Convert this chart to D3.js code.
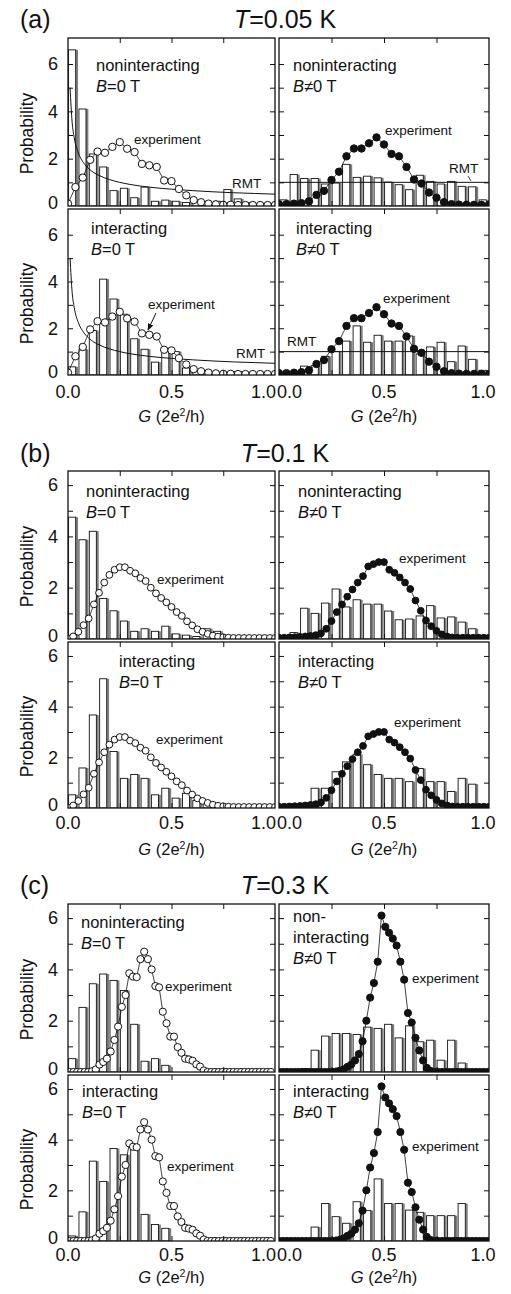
<!DOCTYPE html>
<html>
<head>
<meta charset="utf-8">
<script src="https://cdn.jsdelivr.net/npm/d3@7"></script>
<style>
  body { margin: 0; background: #fff; }
  svg text { font-family: "Liberation Sans", Arial, Helvetica, sans-serif; fill: #111; }
</style>
</head>
<body>
<svg id="chart" width="511" height="1294"></svg>
<script>
// ---- data -------------------------------------------------------------
// histogram bins, width 0.05 in G (2e^2/h)
var binStarts = [0, 0.05, 0.1, 0.15, 0.2, 0.25, 0.3, 0.35, 0.4, 0.45,
                 0.5, 0.55, 0.6, 0.65, 0.7, 0.75, 0.8, 0.85, 0.9, 0.95];
var binWidth = 0.05;

// (a) T = 0.05 K
var histA_nonB0 = [6.6, 4.1, 2.2, 1.65, 0.65, 0.75, 0.35, 0.8, 0.2, 0.25, 0.2, 0.15, 0.2, 0.1, 0.2, 0.7, 0.3, 0.15, 0.1, 0.1];
var histA_nonB1 = [0.26, 1.33, 1.16, 1.16, 0.93, 0.97, 1.76, 1.21, 1.26, 1.19, 1.01, 0.9, 0.69, 1.3, 1.04, 0.93, 1.04, 0.83, 0.81, 0.26];
var histA_intB0 = [0.35, 1.1, 1.9, 4.1, 3.25, 2.6, 1.55, 1.1, 0.55, 1.0, 1.0, 0.3, 0.2, 0.1, 0.1, 0.1, 0.15, 0.1, 0.05, 0.05];
var histA_intB1 = [0, 0.05, 0.38, 0.4, 0.8, 1.0, 1.45, 2.1, 1.4, 1.7, 1.45, 1.45, 1.67, 0.9, 1.2, 1.4, 0.57, 1.24, 0.67, 0.2];
// (b) T = 0.1 K
var histB_nonB0 = [4.75, 3.87, 4.2, 1.58, 1.1, 0.7, 0.3, 0.4, 0.3, 0.5, 0.2, 0.15, 0.1, 0.4, 0.3, 0.05, 0.05, 0.05, 0.05, 0.05];
var histB_nonB1 = [0.05, 0.25, 1.2, 1.0, 1.4, 1.95, 1.25, 1.53, 1.36, 1.36, 1.09, 0.75, 0.78, 0.9, 1.3, 0.82, 0.86, 0.66, 0.4, 0.05];
var histB_intB0 = [0.52, 1.58, 3.67, 5.1, 2.23, 1.17, 1.32, 1.17, 0.52, 0.78, 0.39, 0.58, 0.3, 0.25, 0.1, 0.05, 0.05, 0.05, 0.05, 0.05];
var histB_intB1 = [0, 0, 0.05, 0.78, 0.78, 1.43, 1.82, 2.12, 1.71, 1.32, 1.17, 1.17, 1.04, 1.56, 1.04, 1.04, 0.65, 1.17, 0.94, 0.05];
// (c) T = 0.3 K
var histC_nonB0 = [0.52, 2.52, 3.44, 3.82, 3.57, 3.18, 1.86, 0.42, 0.52, 0.26, 0, 0, 0, 0, 0, 0, 0, 0, 0, 0];
var histC_nonB1 = [0, 0, 0.13, 0.85, 1.4, 1.5, 1.5, 1.46, 1.75, 1.7, 1.86, 1.33, 1.8, 1.18, 1.24, 0.46, 1.24, 0.35, 0, 0];
var histC_intB0 = [0.2, 1.15, 3.15, 2.35, 3.65, 3.4, 3.6, 1.05, 0.65, 0.5, 0, 0, 0, 0, 0, 0, 0, 0, 0, 0];
var histC_intB1 = [0, 0, 0, 0.55, 1.48, 0.96, 0.7, 1.55, 1.2, 2.45, 1.48, 1.48, 1.22, 1.13, 1.0, 1.0, 1.0, 1.48, 0, 0];

// measured distributions, sampled on an even G grid (start, step)
var expA_B0 = [0.1, 0.8, 1.2, 1.95, 2.3, 2.25, 2.5, 2.7, 2.42, 2.28, 1.78, 1.72, 1.65, 1.08, 1.05,
               0.72, 0.45, 0.25, 0.16, 0.1, 0.07, 0.05, 0.05, 0.04, 0.04, 0.04, 0.04, 0.04, 0.04];
var expA_B1 = [0.08, 0.08, 0.1, 0.12, 0.2, 0.47, 0.64, 1.1, 1.45, 2.1, 2.43, 2.43, 2.65, 2.9, 2.6,
               2.2, 2.1, 1.65, 1.12, 0.95, 0.57, 0.35, 0.16, 0.08, 0.06, 0.05, 0.05, 0.05, 0.05];
var expB_B0 = [0.02, 0.1, 0.28, 0.54, 0.8, 1.35, 1.8, 2.2, 2.5, 2.7, 2.8, 2.8, 2.66, 2.56, 2.38,
               2.26, 2.0, 1.78, 1.6, 1.43, 1.25, 1.05, 0.9, 0.69, 0.53, 0.38, 0.28, 0.2, 0.13, 0.09,
               0.07, 0.05, 0.04, 0.04, 0.04, 0.04, 0.04, 0.04, 0.04, 0.04, 0.04];
var expB_B1 = [0.05, 0.05, 0.06, 0.07, 0.08, 0.1, 0.12, 0.15, 0.22, 0.4, 0.7, 1.05, 1.35, 1.65, 1.93,
               2.2, 2.45, 2.83, 2.92, 3.0, 3.0, 2.7, 2.58, 2.4, 2.2, 1.95, 1.5, 1.1, 0.72, 0.5,
               0.32, 0.18, 0.1, 0.06, 0.05, 0.05, 0.05, 0.05, 0.05, 0.05, 0.05];
var expC_B0 = [0, 0, 0, 0, 0, 0, 0.03, 0.1, 0.29, 0.39, 0.52, 0.8, 1.25, 1.77, 2.54, 3.0, 3.85, 3.72,
               3.7, 4.4, 4.69, 4.4, 4.0, 3.35, 3.3, 2.35, 1.9, 1.38, 1.38, 0.97, 0.75, 0.52, 0.49,
               0.44, 0.3, 0.21, 0.06, 0, 0, 0, 0, 0, 0, 0, 0, 0, 0, 0, 0, 0, 0, 0, 0, 0, 0];
var expC_B1 = [0, 0, 0, 0, 0, 0, 0, 0, 0, 0, 0, 0, 0, 0, 0, 0.02, 0.05, 0.1, 0.2, 0.29, 0.45, 0.7,
               1.2, 2.0, 2.9, 3.47, 4.3, 6.1, 5.66, 5.43, 5.2, 4.93, 4.3, 3.6, 2.3, 1.93, 1.33, 0.84,
               0.45, 0.16, 0.04, 0, 0, 0, 0, 0, 0, 0, 0, 0, 0, 0, 0, 0, 0, 0];

// random-matrix-theory curves
var rmtG_B0 = [0.01, 0.02, 0.03, 0.05, 0.075, 0.1, 0.15, 0.2, 0.3, 0.4, 0.5, 0.6, 0.7, 0.8, 0.9, 1.0];
var rmtP_B0 = [5.0, 3.54, 2.89, 2.24, 1.83, 1.58, 1.29, 1.12, 0.91, 0.79, 0.71, 0.65, 0.6, 0.56, 0.53, 0.5];
var rmtG_B1 = [0, 1];
var rmtP_B1 = [1, 1];

var xTickVals = [0.25, 0.5, 0.75];
var xLabelVals = [0, 0.5, 1];
var yTickVals = [1, 2, 3, 4, 5, 6];
var yLabelVals = [0, 2, 4, 6];

// ---- layout -----------------------------------------------------------
var svg = d3.select("#chart");
var cols = [{ x0: 68, x1: 275 }, { x0: 279, x1: 489 }];

var sections = [
  { tag: "(a)", temp: "=0.05 K", top: 38,  yMax: 7.1,  base: 28,  r: 3.7, labGap: 23, titleGap: 47 },
  { tag: "(b)", temp: "=0.1 K",  top: 471, yMax: 6.55, base: 462, r: 3.4, labGap: 21, titleGap: 47 },
  { tag: "(c)", temp: "=0.3 K",  top: 904, yMax: 6.55, base: 894, r: 3.6, labGap: 20, titleGap: 42 }
];

var expSets = {
  A0: { start: 0, step: 1 / 28, p: expA_B0, filled: false },
  A1: { start: 0, step: 1 / 28, p: expA_B1, filled: true },
  B0: { start: 0, step: 0.025, p: expB_B0, filled: false },
  B1: { start: 0, step: 0.025, p: expB_B1, filled: true },
  C0: { start: 0.008, step: 0.018, p: expC_B0, filled: false },
  C1: { start: 0.002, step: 0.018, p: expC_B1, filled: true }
};

var rmtSets = {
  curve: { g: rmtG_B0, p: rmtP_B0 },
  flat:  { g: rmtG_B1, p: rmtP_B1 }
};

var panels = [
  { sec: 0, row: 0, col: 0, hist: histA_nonB0, exp: "A0", rmt: "curve", name: ["noninteracting"], b: "=0 T", tx: 28, ty: 33, ex: 66, ey: 106, rx: 164, ry: 150 },
  { sec: 0, row: 0, col: 1, hist: histA_nonB1, exp: "A1", rmt: "flat", name: ["noninteracting"], b: "\u22600 T", tx: 14, ty: 33, ex: 106, ey: 97, rx: 170, ry: 135, leader: true },
  { sec: 0, row: 1, col: 0, hist: histA_intB0, exp: "A0", rmt: "curve", name: ["interacting"], b: "=0 T", tx: 23, ty: 25, ex: 80, ey: 100, rx: 168, ry: 149, arrow: true },
  { sec: 0, row: 1, col: 1, hist: histA_intB1, exp: "A1", rmt: "flat", name: ["interacting"], b: "\u22600 T", tx: 17, ty: 25, ex: 104, ey: 94, rx: 8, ry: 137 },
  { sec: 1, row: 0, col: 0, hist: histB_nonB0, exp: "B0", name: ["noninteracting"], b: "=0 T", tx: 18, ty: 26, ex: 89, ey: 113 },
  { sec: 1, row: 0, col: 1, hist: histB_nonB1, exp: "B1", name: ["noninteracting"], b: "\u22600 T", tx: 19, ty: 26, ex: 120, ey: 92 },
  { sec: 1, row: 1, col: 0, hist: histB_intB0, exp: "B0", name: ["interacting"], b: "=0 T", tx: 51, ty: 25, ex: 88, ey: 102 },
  { sec: 1, row: 1, col: 1, hist: histB_intB1, exp: "B1", name: ["interacting"], b: "\u22600 T", tx: 19, ty: 25, ex: 115, ey: 85 },
  { sec: 2, row: 0, col: 0, hist: histC_nonB0, exp: "C0", name: ["noninteracting"], b: "=0 T", tx: 13, ty: 24, ex: 97, ey: 87 },
  { sec: 2, row: 0, col: 1, hist: histC_nonB1, exp: "C1", name: ["non-", "interacting"], b: "\u22600 T", tx: 14, ty: 18, ex: 133, ey: 79 },
  { sec: 2, row: 1, col: 0, hist: histC_intB0, exp: "C0", name: ["interacting"], b: "=0 T", tx: 14, ty: 22, ex: 99, ey: 96 },
  { sec: 2, row: 1, col: 1, hist: histC_intB1, exp: "C1", name: ["interacting"], b: "\u22600 T", tx: 14, ty: 22, ex: 133, ey: 76 }
];

var defs = svg.append("defs");
defs.append("marker")
  .attr("id", "arrowhead")
  .attr("viewBox", "0 0 10 10")
  .attr("refX", 9).attr("refY", 5)
  .attr("markerWidth", 7).attr("markerHeight", 7)
  .attr("orient", "auto")
  .append("path").attr("d", "M0,1 L10,5 L0,9 Z").attr("fill", "#111");

// ---- section headers --------------------------------------------------
sections.forEach(function(s) {
  svg.append("text").attr("x", 20).attr("y", s.base)
    .attr("font-size", 25).text(s.tag);
  var t = svg.append("text").attr("x", 285).attr("y", s.base)
    .attr("font-size", 25).attr("text-anchor", "middle");
  t.append("tspan").attr("font-style", "italic").text("T");
  t.append("tspan").text(s.temp);

  // x-axis titles under both columns
  cols.forEach(function(c) {
    var xt = svg.append("text")
      .attr("x", (c.x0 + c.x1) / 2)
      .attr("y", s.top + 337 + s.titleGap)
      .attr("font-size", 16.5)
      .attr("text-anchor", "middle");
    xt.append("tspan").attr("font-style", "italic").text("G");
    xt.append("tspan").text(" (2e");
    xt.append("tspan").attr("font-size", 10.5).attr("dy", -6).text("2");
    xt.append("tspan").attr("dy", 6).text("/h)");
  });
});

// ---- panels -----------------------------------------------------------
panels.forEach(function(p, idx) {
  var sec = sections[p.sec], col = cols[p.col];
  var y0 = sec.top + (p.row ? 171 : 0);
  var y1 = sec.top + (p.row ? 337 : 168);

  var x = d3.scaleLinear().domain([0, 1]).range([col.x0, col.x1]);
  var y = d3.scaleLinear().domain([0, sec.yMax]).range([y1, y0]);

  var clipId = "clip" + idx;
  defs.append("clipPath").attr("id", clipId)
    .append("rect")
    .attr("x", col.x0).attr("y", y0)
    .attr("width", col.x1 - col.x0).attr("height", y1 - y0);

  var g = svg.append("g");
  var plot = g.append("g").attr("clip-path", "url(#" + clipId + ")");

  var barData = p.hist.map(function(v, i) { return { g: binStarts[i], v: v }; })
    .filter(function(d) { return d.v > 0; });

  // grey side strip of each bar
  plot.selectAll("rect.side").data(barData).enter().append("rect")
    .attr("class", "side")
    .attr("x", function(d) { return x(d.g + binWidth) - 2.7; })
    .attr("width", 2.4)
    .attr("y", function(d) { return y(d.v); })
    .attr("height", function(d) { return y(0) - y(d.v); })
    .attr("fill", "#808080");

  plot.selectAll("rect.bar").data(barData).enter().append("rect")
    .attr("class", "bar")
    .attr("x", function(d) { return x(d.g) + 0.6; })
    .attr("width", function(d) { return x(d.g + binWidth) - x(d.g) - 3.3; })
    .attr("y", function(d) { return y(d.v); })
    .attr("height", function(d) { return y(0) - y(d.v); })
    .attr("fill", "#fff")
    .attr("stroke", "#111")
    .attr("stroke-width", 0.9);

  if (p.rmt) {
    var rs = rmtSets[p.rmt];
    plot.append("path")
      .datum(rs.g.map(function(gv, i) { return [gv, rs.p[i]]; }))
      .attr("fill", "none")
      .attr("stroke", "#111")
      .attr("stroke-width", 1)
      .attr("d", d3.line()
        .curve(d3.curveMonotoneX)
        .x(function(d) { return x(d[0]); })
        .y(function(d) { return y(d[1]); }));
  }

  var es = expSets[p.exp];
  var pts = es.p.map(function(v, i) { return [es.start + i * es.step, v]; });
  plot.append("path")
    .datum(pts)
    .attr("fill", "none")
    .attr("stroke", "#111")
    .attr("stroke-width", 0.8)
    .attr("d", d3.line()
      .x(function(d) { return x(d[0]); })
      .y(function(d) { return y(d[1]); }));
  plot.selectAll("circle").data(pts).enter().append("circle")
    .attr("cx", function(d) { return x(d[0]); })
    .attr("cy", function(d) { return y(d[1]); })
    .attr("r", sec.r)
    .attr("fill", es.filled ? "#111" : "#fff")
    .attr("stroke", "#111")
    .attr("stroke-width", 1);

  // frame
  g.append("rect")
    .attr("x", col.x0).attr("y", y0)
    .attr("width", col.x1 - col.x0).attr("height", y1 - y0)
    .attr("fill", "none").attr("stroke", "#111").attr("stroke-width", 1.3);

  // inward ticks on all four sides
  function noDomain(a) { a.select(".domain").remove(); a.selectAll("line").attr("stroke", "#111"); }
  g.append("g").attr("transform", "translate(0," + y1 + ")")
    .call(d3.axisBottom(x).tickValues(xTickVals).tickSize(-5).tickFormat(""))
    .call(noDomain);
  g.append("g").attr("transform", "translate(0," + y0 + ")")
    .call(d3.axisTop(x).tickValues(xTickVals).tickSize(-5).tickFormat(""))
    .call(noDomain);
  g.append("g").attr("transform", "translate(" + col.x0 + ",0)")
    .call(d3.axisLeft(y).tickValues(yTickVals).tickSize(-5).tickFormat(""))
    .call(noDomain);
  g.append("g").attr("transform", "translate(" + col.x1 + ",0)")
    .call(d3.axisRight(y).tickValues(yTickVals).tickSize(-5).tickFormat(""))
    .call(noDomain);

  // y tick labels and title on the left column
  if (p.col === 0) {
    g.selectAll("text.ylab").data(yLabelVals).enter().append("text")
      .attr("x", col.x0 - 10)
      .attr("y", function(d) { return y(d) - (d === 0 ? 3 : 0); })
      .attr("dy", "0.35em")
      .attr("text-anchor", "end")
      .attr("font-size", 18)
      .text(function(d) { return d; });
    g.append("text")
      .attr("transform", "translate(33," + ((y0 + y1) / 2 + 11.5) + ") rotate(-90)")
      .attr("text-anchor", "middle")
      .attr("font-size", 17.5)
      .text("Probability");
  }

  // x tick labels under the bottom row
  if (p.row === 1) {
    g.selectAll("text.xlab").data(xLabelVals).enter().append("text")
      .attr("x", function(d) {
        if (p.col === 0 && d === 1) return x(d) + 1;
        if (p.col === 1 && d === 0) return x(d) - 2;
        if (p.col === 1 && d === 1) return x(d) - 6;
        return x(d);
      })
      .attr("y", y1 + sec.labGap)
      .attr("text-anchor", function(d) {
        if (p.col === 0 && d === 1) return "end";
        if (p.col === 1 && d === 0) return "start";
        return "middle";
      })
      .attr("font-size", 18)
      .text(function(d) { return d3.format(".1f")(d); });
  }

  // panel annotations
  var px = col.x0, py = y0;
  p.name.forEach(function(line, i) {
    g.append("text").attr("x", px + p.tx).attr("y", py + p.ty + i * 21)
      .attr("font-size", 16.5).text(line);
  });
  var bt = g.append("text").attr("x", px + p.tx).attr("y", py + p.ty + p.name.length * 21)
    .attr("font-size", 16.5);
  bt.append("tspan").attr("font-style", "italic").text("B");
  bt.append("tspan").text(p.b);

  g.append("text").attr("x", px + p.ex).attr("y", py + p.ey)
    .attr("font-size", 13.5).text("experiment");

  if (p.rx !== undefined) {
    g.append("text").attr("x", px + p.rx).attr("y", py + p.ry)
      .attr("font-size", 13.5).text("RMT");
  }
  if (p.leader) {
    g.append("line")
      .attr("x1", px + 189).attr("y1", py + 138)
      .attr("x2", px + 192).attr("y2", py + 143)
      .attr("stroke", "#111").attr("stroke-width", 0.8);
  }
  if (p.arrow) {
    g.append("line")
      .attr("x1", px + 88).attr("y1", py + 104)
      .attr("x2", px + 80).attr("y2", py + 121)
      .attr("stroke", "#111").attr("stroke-width", 1)
      .attr("marker-end", "url(#arrowhead)");
  }
});
</script>
</body>
</html>
